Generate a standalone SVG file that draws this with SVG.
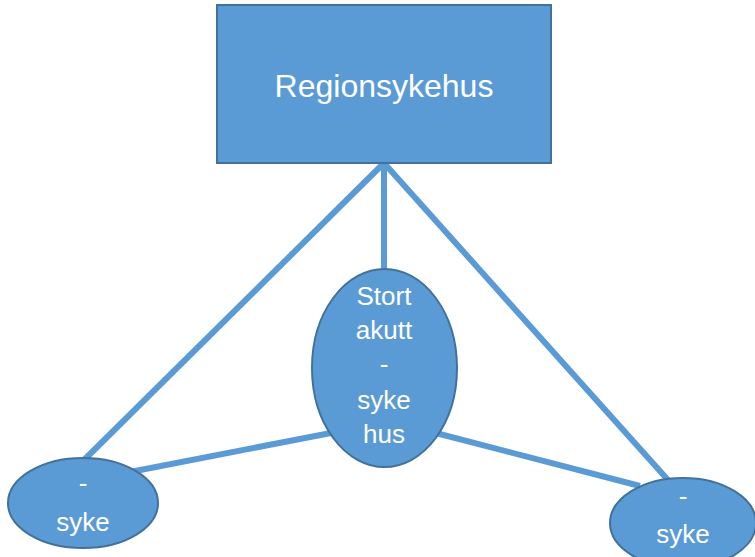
<svg xmlns="http://www.w3.org/2000/svg" width="755" height="557" viewBox="0 0 755 557">
<style>
.node{fill:#5B9BD5;stroke:#41719C;stroke-width:2}
.conn{stroke:#5B9BD5;stroke-width:6;fill:none}
.t{font-family:"Liberation Sans",Arial,sans-serif;fill:#FFFFFF;text-anchor:middle}
</style>
<rect width="755" height="557" fill="#FFFFFF"/>
<g id="connectors">
<line class="conn" x1="384" y1="163" x2="82" y2="462"/>
<line class="conn" x1="384" y1="163" x2="668" y2="480"/>
<line class="conn" x1="384" y1="163" x2="384" y2="270"/>
<line class="conn" x1="336" y1="432" x2="130" y2="472"/>
<line class="conn" x1="432" y1="432" x2="640" y2="486"/>
</g>
<g id="regionsykehus">
<rect class="node" x="217" y="5" width="334" height="158"/>
<text class="t" x="384" y="97" font-size="32">Regionsykehus</text>
</g>
<g id="stort-akuttsykehus">
<ellipse class="node" cx="384.5" cy="368" rx="72.5" ry="99"/>
<text class="t" font-size="26"><tspan x="384" y="305">Stort</tspan><tspan x="384" y="339">akutt</tspan><tspan x="384" y="373">-</tspan><tspan x="384" y="409">syke</tspan><tspan x="384" y="443">hus</tspan></text>
</g>
<g id="left-sykehus">
<ellipse class="node" cx="83" cy="503" rx="75" ry="45"/>
<text class="t" font-size="26"><tspan x="83" y="492">-</tspan><tspan x="83" y="531">syke</tspan></text>
</g>
<g id="right-sykehus">
<ellipse class="node" cx="683" cy="523" rx="73" ry="45"/>
<text class="t" font-size="26"><tspan x="683" y="505">-</tspan><tspan x="683" y="543">syke</tspan></text>
</g>
</svg>
